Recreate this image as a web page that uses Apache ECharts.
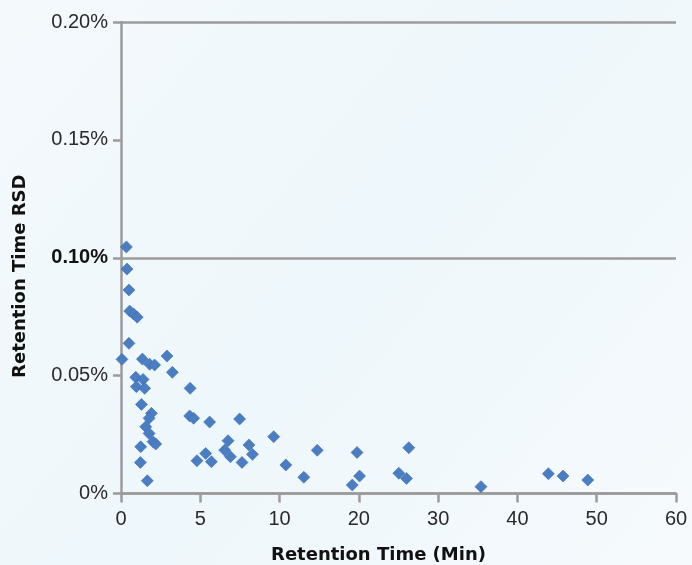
<!DOCTYPE html>
<html>
<head>
<meta charset="utf-8">
<script src="https://cdn.jsdelivr.net/npm/echarts@6/dist/echarts.min.js"></script>
<style>
html,body{margin:0;padding:0;background:#f3f9fc;}
#chart{width:692px;height:565px;}
</style>
</head>
<body>
<div id="chart"></div>
<script>
// X axis tick labels (axis is piecewise: 0,5,10 then steps of 10, equally spaced)
const xTickValues = [0, 5, 10, 20, 30, 40, 50, 60];
// Y axis ticks (percent)
const yTickValues = [0, 0.05, 0.10, 0.15, 0.20];

// Retention time (min)
const retentionTime = [
  0.34, 0.38, 0.50, 0.55, 0.80, 1.02, 0.50, 0.06, 1.35, 1.81,
  2.12, 2.90, 3.24, 0.93, 1.39, 0.97, 1.49, 1.29, 4.36, 1.92,
  1.77, 1.56, 1.77, 2.02, 2.19, 1.24, 1.22, 1.66, 4.33, 4.58,
  5.59, 7.48, 9.63, 6.75, 6.54, 8.07, 8.29, 5.34, 6.90, 4.79,
  5.70, 7.63, 14.75, 10.79, 13.06, 19.77, 20.09, 19.17, 26.3, 25.04,
  26.01, 35.4, 43.9, 45.75, 48.87
];
// Retention time RSD (%)
const rsd = [
  0.1046, 0.0952, 0.0863, 0.0774, 0.0761, 0.0748, 0.0637, 0.0569, 0.0570, 0.0548,
  0.0545, 0.0583, 0.0514, 0.0493, 0.0484, 0.0453, 0.0446, 0.0378, 0.0446, 0.0340,
  0.0319, 0.0283, 0.0255, 0.0220, 0.0210, 0.0198, 0.0132, 0.0054, 0.0329, 0.0319,
  0.0303, 0.0316, 0.0241, 0.0224, 0.0184, 0.0206, 0.0166, 0.0170, 0.0156, 0.0139,
  0.0135, 0.0132, 0.0183, 0.0121, 0.0069, 0.0174, 0.0074, 0.0036, 0.0194, 0.0086,
  0.0064, 0.0029, 0.0084, 0.0074, 0.0057
];

// piecewise mapping of a time value onto the equally spaced tick positions
function toAxisPos(t) {
  for (let i = 0; i < xTickValues.length - 1; i++) {
    const a = xTickValues[i], b = xTickValues[i + 1];
    if (t <= b || i === xTickValues.length - 2) {
      return i + (t - a) / (b - a);
    }
  }
  return 0;
}

const points = retentionTime.map((t, i) => [toAxisPos(t), rsd[i], t]);

const chart = echarts.init(document.getElementById('chart'), null, {renderer: 'canvas'});
const axisGray = '#9b9b9b';
const labelFont = 'Liberation Sans, Arial, Helvetica, sans-serif';

chart.setOption({
  backgroundColor: {
    type: 'linear', x: 0, y: 0, x2: 1, y2: 1,
    colorStops: [
      {offset: 0, color: '#f4f9fc'},
      {offset: 0.5, color: '#eef7fb'},
      {offset: 1, color: '#f6fafd'}
    ]
  },
  animation: false,
  grid: {left: 121, right: 16, top: 22, bottom: 71.5, containLabel: false, outerBoundsMode: 'none'},
  xAxis: {
    type: 'value',
    min: 0, max: xTickValues.length - 1, interval: 1,
    name: 'Retention Time (Min)',
    nameLocation: 'middle',
    nameGap: 53,
    nameTextStyle: {
      fontFamily: 'DejaVu Sans, sans-serif', fontWeight: 'bold', fontSize: 18,
      color: '#111', padding: [0, 40, 0, 0]
    },
    axisLine: {show: true, lineStyle: {color: axisGray, width: 2.5}},
    axisTick: {show: true, length: 9, lineStyle: {color: axisGray, width: 2.5}},
    axisLabel: {
      margin: 16, fontSize: 20, fontFamily: labelFont, color: '#2a2a2a',
      formatter: v => String(xTickValues[Math.round(v)])
    },
    splitLine: {show: false}
  },
  yAxis: [{
    type: 'value',
    min: 0, max: 0.2, interval: 0.05,
    name: 'Retention Time RSD',
    nameLocation: 'middle',
    nameGap: 92,
    nameRotate: 90,
    nameTextStyle: {
      fontFamily: 'DejaVu Sans, sans-serif', fontWeight: 'bold', fontSize: 18,
      color: '#111', padding: [0, 37, 0, 0]
    },
    axisLine: {show: true, lineStyle: {color: axisGray, width: 2.5}},
    axisTick: {show: true, length: 8, lineStyle: {color: axisGray, width: 2.5}},
    axisLabel: {
      margin: 13, fontSize: 20, fontFamily: labelFont, color: '#2a2a2a',
      formatter: v => {
        if (Math.abs(v) < 1e-9) return '0%';
        const s = v.toFixed(2) + '%';
        return Math.abs(v - 0.1) < 1e-9 ? '{b|' + s + '}' : s;
      },
      rich: {b: {fontWeight: 'bold', fontSize: 20, fontFamily: labelFont, color: '#111'}}
    },
    splitLine: {show: false}
  }, {
    type: 'value',
    min: 0, max: 0.2, interval: 0.1,
    position: 'left',
    axisLine: {show: false}, axisTick: {show: false}, axisLabel: {show: false},
    splitLine: {show: true, lineStyle: {color: axisGray, width: 2.5}}
  }],
  series: [{
    type: 'scatter',
    yAxisIndex: 0,
    symbol: 'diamond',
    symbolSize: 12,
    data: points,
    itemStyle: {color: '#4a7dc1', borderColor: '#3d6fb1', borderWidth: 0.6, opacity: 1},
    z: 5
  }]
});
</script>
</body>
</html>
